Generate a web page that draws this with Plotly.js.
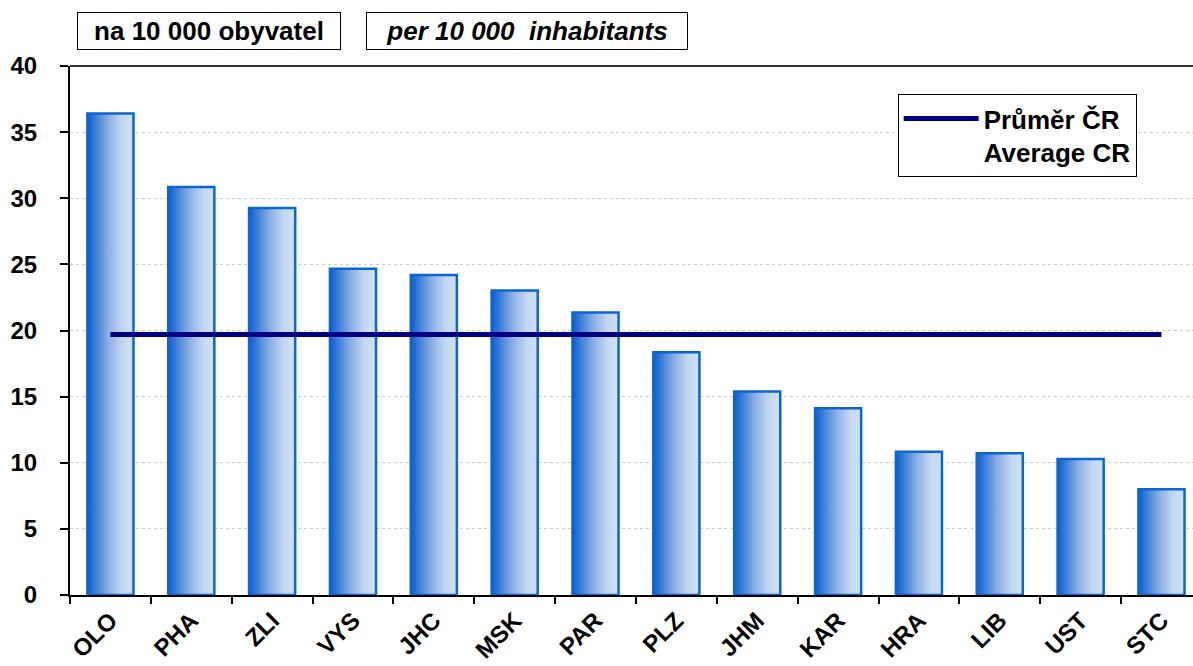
<!DOCTYPE html>
<html>
<head>
<meta charset="utf-8">
<script src="https://cdn.plot.ly/plotly-3.0.1.min.js"></script>
<style>html,body{margin:0;padding:0;background:#fff;}#chart{width:1193px;height:666px;}</style>
</head>
<body>
<div id="chart"></div>
<script>
const regions = ["OLO","PHA","ZLI","VYS","JHC","MSK","PAR","PLZ","JHM","KAR","HRA","LIB","UST","STC"];
const values = [36.4, 30.85, 29.27, 24.67, 24.2, 23.03, 21.36, 18.36, 15.38, 14.12, 10.83, 10.71, 10.28, 8.0];
const averageCR = 19.7;
const legendLabel = "Průměr ČR<br>Average CR";
const boxLabelCZ = "na 10 000 obyvatel";
const boxLabelEN = "<i>per 10 000  inhabitants</i>";

const FONT = "Arial, 'Liberation Sans', sans-serif";
const halfW = 0.285;
const traces = [];
regions.forEach((r, i) => {
  const v = values[i];
  traces.push({
    type: "scatter", mode: "lines",
    x: [i - halfW, i - halfW, i + halfW, i + halfW, i - halfW],
    y: [0, v, v, 0, 0],
    fill: "toself",
    fillgradient: {type: "horizontal", colorscale: [[0, "#0a5ecf"], [0.45, "#8aaee3"], [0.75, "#c2d7f1"], [1, "#d0e2f6"]]},
    line: {color: "#0a66d0", width: 2.5},
    showlegend: false,
    name: r,
    hoverinfo: "text",
    text: r + ": " + v
  });
});
traces.push({
  type: "scatter", mode: "lines",
  x: [0, regions.length - 1],
  y: [averageCR, averageCR],
  line: {color: "#000080", width: 5},
  name: legendLabel,
  showlegend: true
});

const layout = {
  width: 1193, height: 666,
  margin: {l: 70, r: 0, t: 66, b: 71},
  paper_bgcolor: "#fff", plot_bgcolor: "#fff",
  font: {family: FONT, size: 24, color: "#000"},
  xaxis: {
    range: [-0.5, 13.39],
    tickmode: "array",
    tickvals: regions.map((r, i) => i),
    ticktext: regions,
    ticks: "",
    tickangle: -45,
    tickfont: {family: FONT, size: 24, color: "#000", weight: "bold"},
    showgrid: false, zeroline: false,
    showline: true, linecolor: "#000", linewidth: 2,
    minor: {tickmode: "linear", tick0: 0.5, dtick: 1, ticks: "outside", ticklen: 7, tickwidth: 2, tickcolor: "#000", showgrid: false},
    fixedrange: true
  },
  yaxis: {
    range: [0, 40], dtick: 5, tick0: 0,
    ticks: "outside", ticklen: 8, tickwidth: 2, tickcolor: "#000",
    ticklabelstandoff: 18,
    tickfont: {family: FONT, size: 24, color: "#000", weight: "bold"},
    showgrid: true, gridcolor: "#cccccc", griddash: "dot", gridwidth: 1,
    zeroline: false,
    showline: true, linecolor: "#000", linewidth: 2,
    fixedrange: true
  },
  legend: {
    x: 0.737, y: 0.947, xanchor: "left", yanchor: "top",
    bgcolor: "#fff", bordercolor: "#000", borderwidth: 1,
    font: {family: FONT, size: 26, color: "#000", weight: "bold"},
    valign: "top",
    itemwidth: 75,
    tracegroupgap: 0
  },
  shapes: [
    {type: "line", xref: "paper", yref: "paper", x0: 0, x1: 1, y0: 1, y1: 1, line: {color: "#333", width: 2}}
  ],
  annotations: [
    {text: boxLabelCZ, xref: "paper", yref: "paper", x: 0.0062, y: 1.0, xanchor: "left", yanchor: "bottom", yshift: 16,
     width: 258, height: 32, align: "center", valign: "middle",
     showarrow: false, font: {family: FONT, size: 26, color: "#000", weight: "bold"},
     bordercolor: "#000", borderwidth: 1, borderpad: 2, bgcolor: "#fff"},
    {text: boxLabelEN, xref: "paper", yref: "paper", x: 0.2636, y: 1.0, xanchor: "left", yanchor: "bottom", yshift: 16,
     width: 316, height: 32, align: "center", valign: "middle",
     showarrow: false, font: {family: FONT, size: 26, color: "#000", weight: "bold"},
     bordercolor: "#000", borderwidth: 1, borderpad: 2, bgcolor: "#fff"}
  ]
};

Plotly.newPlot("chart", traces, layout, {displayModeBar: false, staticPlot: true});
</script>
</body>
</html>
